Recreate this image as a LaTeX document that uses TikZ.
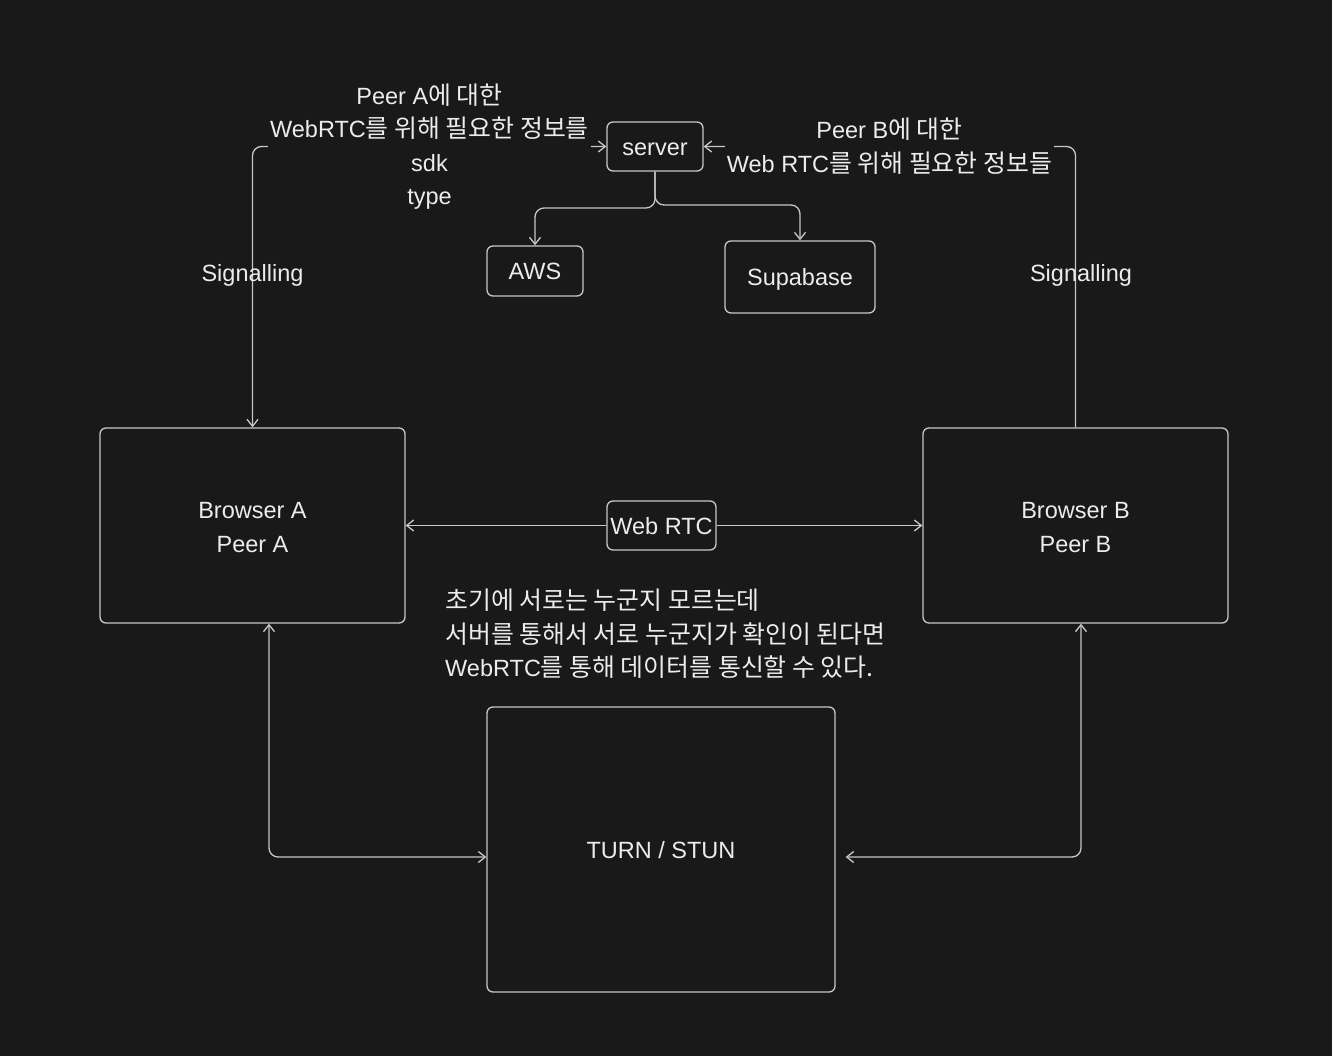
\documentclass[tikz,border=0pt]{standalone}
\usepackage{fontspec}
\setmainfont{Liberation Sans}
\newfontfamily\krfont[Scale=1.06]{Noto Sans CJK KR}
\newcommand\krt[1]{{\krfont #1}}
\usetikzlibrary{arrows.meta}
\definecolor{bg}{HTML}{191919}
\definecolor{ln}{HTML}{C8C8C8}
\definecolor{tx}{HTML}{ECECEC}
\tikzset{
  box/.style={draw=ln, line width=1.3pt, rounded corners=6pt, inner sep=0pt, text=tx},
  box1/.style={box, text height=18pt, text depth=0pt},
  conn/.style={draw=ln, line width=1.3pt, rounded corners=9pt},
  tip/.style={arrows={-Straight Barb[length=7pt,width=11pt]}},
  tip2/.style={arrows={Straight Barb[length=7pt,width=11pt]-Straight Barb[length=7pt,width=11pt]}},
  lbl/.style={text=tx, align=center, inner sep=2pt},
  txt/.style={font=\fontsize{23.5}{33.5}\selectfont}
}
\begin{document}
\begin{tikzpicture}[x=1pt,y=-1pt,txt]
\fill[bg] (0,0) rectangle (1332,1056);
\useasboundingbox (0,0) rectangle (1332,1056);

\node[box1, minimum width=96pt, minimum height=49pt] (server) at (655,146.5) {server};
\node[box1, minimum width=96pt, minimum height=50pt] (aws) at (535,271) {AWS};
\node[box1, minimum width=150pt, minimum height=72pt] (supa) at (800,277) {Supabase};
\node[box, minimum width=305pt, minimum height=195pt] (ba) at (252.5,525.5) {};
\node[lbl] (ta) at (252.5,527.5) {Browser A\\Peer A};
\node[box, minimum width=305pt, minimum height=195pt] (bb) at (1075.5,525.5) {};
\node[lbl] (tb) at (1075.5,527.5) {Browser B\\Peer B};
\node[box1, minimum width=109pt, minimum height=49pt] (rtc) at (661.5,525.5) {Web RTC};
\node[box1, minimum width=348pt, minimum height=285pt] (turn) at (661,849.5) {TURN / STUN};

% signalling A
\draw[conn, tip2] (ba.north) |- (server.west);
\node[lbl, fill=bg] (la) at (429.5,146.5) {Peer A\krt{에 대한}\\WebRTC\krt{를 위해 필요한 정보를}\\sdk\\type};
\node[lbl] (sa) at (252.5,275) {Signalling};

% signalling B
\draw[conn, tip] (bb.north) |- (server.east);
\node[lbl, fill=bg] (lb) at (889.5,146) {Peer B\krt{에 대한}\\Web RTC\krt{를 위해 필요한 정보들}};
\node[lbl] (sb) at (1081,275) {Signalling};

% server to AWS / Supabase
\coordinate (jaws) at (655,208);
\coordinate (jsup) at (655,205);
\draw[conn, tip] (server.south) |- (jaws -| aws.north) -- (aws.north);
\draw[conn, tip] (server.south) |- (jsup -| supa.north) -- (supa.north);

% Web RTC
\draw[conn, tip] (rtc.west) -- (ba.east);
\draw[conn, tip] (rtc.east) -- (bb.west);

% TURN / STUN
\draw[conn, tip2] ([xshift=16.5pt]ba.south) |- ([yshift=-7.5pt]turn.west);
\draw[conn, tip2] ([xshift=5.5pt]bb.south) |- ([xshift=10pt,yshift=-7.5pt]turn.east);

\node[lbl, align=left, anchor=west, inner sep=0pt] (note) at (445,634)
  {\krt{초기에 서로는 누군지 모르는데}\\\krt{서버를 통해서 서로 누군지가 확인이 된다면}\\WebRTC\krt{를 통해 데이터를 통신할 수 있다.}};
\end{tikzpicture}
\end{document}
